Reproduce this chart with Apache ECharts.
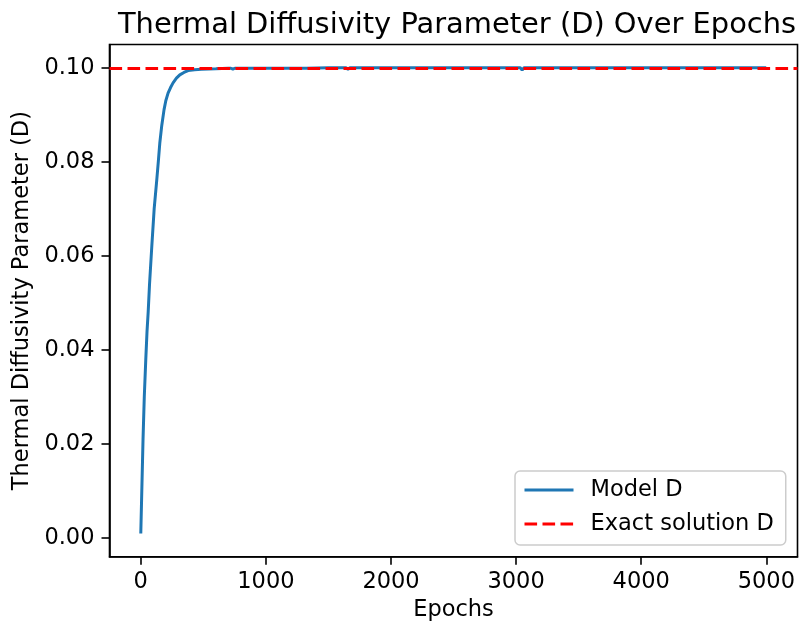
<!DOCTYPE html>
<html>
<head>
<meta charset="utf-8">
<script src="https://cdn.jsdelivr.net/npm/echarts@6/dist/echarts.min.js"></script>
<style>
html,body{margin:0;padding:0;background:#fff;}
#chart{width:799px;height:627px;}
</style>
</head>
<body>
<div id="chart"></div>
<script>
// ---- data ----
const epochs = [0, 9, 18, 28, 40, 50, 59, 70, 88, 107, 128, 140, 152, 168, 186, 200, 218, 238, 258,
  285, 312, 345, 378, 430, 485, 600, 700,
  720, 736, 752, 900, 985, 1000, 1015, 1150, 1295, 1309, 1323, 1500, 1640, 1656, 1672, 1850,
  1985, 2000, 2015, 2200, 2350, 2365, 2380, 2550, 2686, 2701, 2716, 2900, 3033, 3048, 3063,
  3250, 3431, 3446, 3461, 3600, 3672, 3687, 3702, 3850, 3976, 3991, 4006, 4150, 4225, 4240,
  4255, 4400, 4532, 4547, 4562, 4700, 4803, 4818, 4833, 4999];
const modelD = [0.0010, 0.0110, 0.0210, 0.0300, 0.0380, 0.0440, 0.0480, 0.0540, 0.0620, 0.0700,
  0.0762, 0.0800, 0.0840, 0.0878, 0.0911, 0.0930, 0.0946, 0.0958, 0.0968,
  0.0978, 0.0985, 0.0990, 0.0994, 0.0996, 0.0997, 0.0998, 0.0999,
  0.0999, 0.0997, 0.0999, 0.0999, 0.0999, 0.0997, 0.0999, 0.0999, 0.0999, 0.0997, 0.0999, 0.1000,
  0.1000, 0.0997, 0.1000, 0.1000,
  0.1000, 0.0997, 0.1000, 0.1000, 0.1000, 0.0997, 0.1000, 0.1000, 0.1000, 0.0997, 0.1000, 0.1000,
  0.1000, 0.0995, 0.1000,
  0.1000, 0.1000, 0.0997, 0.1000, 0.1000, 0.1000, 0.0997, 0.1000, 0.1000, 0.1000, 0.0997, 0.1000,
  0.1000, 0.1000, 0.0997,
  0.1000, 0.1000, 0.1000, 0.0997, 0.1000, 0.1000, 0.1000, 0.0997, 0.1000, 0.1000];
const exactD = 0.1;
const xTicks = [0, 1000, 2000, 3000, 4000, 5000];
const yTicks = [0.00, 0.02, 0.04, 0.06, 0.08, 0.10];
const xRange = [-250, 5249];
const yRange = [-0.00395, 0.10495];

const FONT = 'DejaVu Sans';
const chart = echarts.init(document.getElementById('chart'), null, {renderer: 'canvas'});
const modelData = epochs.map((e, i) => [e, modelD[i]]);

chart.setOption({
  animation: false,
  backgroundColor: '#fff',
  textStyle: {fontFamily: FONT, color: '#000'},
  title: {
    text: 'Thermal Diffusivity Parameter (D) Over Epochs',
    left: 452, top: 6, textAlign: 'center',
    textStyle: {fontFamily: FONT, fontSize: 28.9, fontWeight: 'normal', color: '#000'}
  },
  grid: {left: 109.5, top: 44.5, right: 1.5, bottom: 70.3, show: true,
    borderColor: '#000', borderWidth: 1.6, backgroundColor: 'transparent'},
  legend: {
    orient: 'vertical', left: 515, top: 471,
    padding: [6, 12, 8, 8], itemGap: 8, itemWidth: 49, itemHeight: 14,
    backgroundColor: 'rgba(255,255,255,0.8)', borderColor: '#cccccc', borderWidth: 1.5, borderRadius: 5,
    itemStyle: {opacity: 0},
    lineStyle: {width: 3},
    textStyle: {fontFamily: FONT, fontSize: 22.5, color: '#000', padding: [0, 0, 0, 12], lineHeight: 26},
    data: ['Model D', 'Exact solution D']
  },
  xAxis: {
    type: 'value', min: xRange[0], max: xRange[1],
    name: 'Epochs', nameLocation: 'middle', nameGap: 40,
    nameTextStyle: {fontFamily: FONT, fontSize: 22.5, color: '#000'},
    splitLine: {show: false},
    axisLine: {show: true, onZero: false, lineStyle: {color: '#000', width: 1.6}},
    axisTick: {show: true, inside: false, length: 8, lineStyle: {color: '#000', width: 1.6}, customValues: xTicks},
    axisLabel: {show: true, margin: 14, fontFamily: FONT, fontSize: 22.5, color: '#000', customValues: xTicks,
      formatter: v => String(Math.round(v))}
  },
  yAxis: {
    type: 'value', min: yRange[0], max: yRange[1],
    name: 'Thermal Diffusivity Parameter (D)', nameLocation: 'middle', nameGap: 67,
    nameTextStyle: {fontFamily: FONT, fontSize: 22.5, color: '#000'},
    splitLine: {show: false},
    axisLine: {show: true, onZero: false, lineStyle: {color: '#000', width: 1.6}},
    axisTick: {show: true, inside: false, length: 8, lineStyle: {color: '#000', width: 1.6}, customValues: yTicks},
    axisLabel: {show: true, margin: 15, fontFamily: FONT, fontSize: 22.5, color: '#000', customValues: yTicks,
      formatter: v => v.toFixed(2)}
  },
  series: [
    {
      name: 'Model D', type: 'line', data: modelData, showSymbol: false, symbol: 'none',
      lineStyle: {color: '#1f77b4', width: 3}, itemStyle: {color: '#1f77b4'}, z: 2
    },
    {
      name: 'Exact solution D', type: 'line', data: [], symbol: 'none', z: 3,
      lineStyle: {color: '#ff0000', width: 3, type: [12.6, 5.4]}, itemStyle: {color: '#ff0000'},
      markLine: {
        silent: true, symbol: ['none', 'none'], label: {show: false},
        lineStyle: {color: '#ff0000', width: 3, type: [12.6, 5.4]},
        data: [{yAxis: exactD}]
      }
    }
  ]
});
</script>
</body>
</html>
